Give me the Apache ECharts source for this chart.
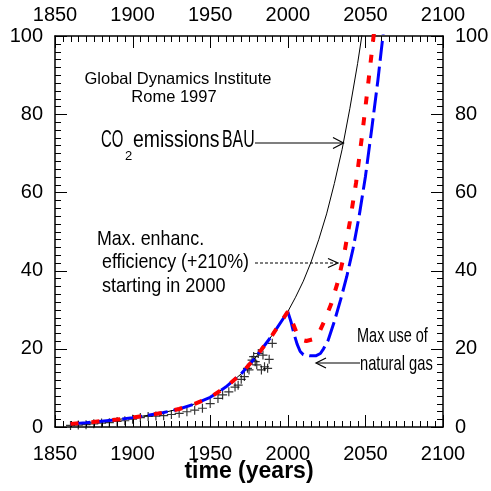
<!DOCTYPE html>
<html>
<head>
<meta charset="utf-8">
<script src="https://cdn.jsdelivr.net/npm/echarts@6/dist/echarts.min.js"></script>
<style>
  html, body { margin: 0; padding: 0; background: #fff; }
  #main { width: 491px; height: 491px; }
</style>
</head>
<body>
<div id="main"></div>
<script>
// --- data ---
var xMin = 1850, xMax = 2100, xStep = 50, xMinorStep = 5;
var yMin = 0, yMax = 100, yStep = 20, yMinorStep = 2;

// business as usual (thin black)
var bauYears  = [1860, 1870, 1880, 1890, 1900, 1910, 1920, 1930, 1940, 1950, 1960, 1970, 1980, 1990, 2000, 2005, 2010, 2015, 2020, 2025, 2030, 2035, 2040, 2045, 2050];
var bauValues = [0.8, 1.1, 1.5, 1.9, 2.4, 3.0, 3.7, 4.6, 5.9, 7.6, 10.2, 13.6, 18.2, 23.5, 29.5, 33.2, 37.3, 42.2, 48, 54.5, 62.3, 71, 81.5, 93, 106];

// max enhanced efficiency (red dotted)
var effYears  = [1860, 1870, 1880, 1890, 1900, 1910, 1920, 1930, 1940, 1950, 1960, 1970, 1980, 1990, 2000, 2003, 2006, 2009, 2012, 2016, 2020, 2024, 2028, 2032, 2036, 2040, 2044, 2048, 2052, 2055, 2057];
var effValues = [0.8, 1.1, 1.5, 1.9, 2.4, 3.0, 3.7, 4.6, 5.9, 7.6, 10.2, 13.6, 18.2, 23.5, 29.5, 26.8, 23.8, 22.3, 22, 22.4, 24, 27.5, 31.5, 36.8, 43.5, 52.5, 62.5, 75, 88.5, 99, 106];

// max use of natural gas (blue dashed)
var gasYears  = [1860, 1870, 1880, 1890, 1900, 1910, 1920, 1930, 1940, 1950, 1960, 1970, 1980, 1990, 2000, 2002, 2004, 2006, 2008, 2010, 2014, 2018, 2021, 2023, 2026, 2030, 2034, 2038, 2042, 2046, 2050, 2054, 2058, 2061, 2063];
var gasValues = [0.8, 1.1, 1.5, 1.9, 2.4, 3.0, 3.7, 4.6, 5.9, 7.6, 10.2, 13.6, 18.2, 23.5, 29.5, 27, 23.8, 21.2, 19.3, 18.5, 18.2, 18.2, 18.8, 20, 22.2, 27, 32.5, 38.5, 45.5, 54, 64, 76, 88.5, 99, 106];

// historical emissions (crosses)
var histYears  = [1860, 1865, 1870, 1875, 1880, 1885, 1890, 1895, 1900, 1905, 1910, 1915, 1920, 1925, 1930, 1935, 1940, 1945, 1950, 1955, 1958, 1962, 1966, 1968, 1970, 1972, 1974, 1975, 1977, 1978, 1979, 1980, 1981, 1983, 1984, 1985, 1987, 1988, 1990];
var histValues = [0.4, 0.5, 0.6, 0.8, 1.0, 1.1, 1.4, 1.6, 2.0, 2.4, 2.7, 2.8, 2.9, 3.2, 3.5, 3.9, 4.3, 4.8, 6.0, 7.3, 8.2, 9.0, 10.2, 10.7, 12.2, 12.9, 15.0, 14.6, 17.1, 18.0, 16.7, 15.9, 18.8, 14.6, 18.4, 15.4, 15.0, 17.3, 21.4];

function zip(xs, ys) {
  return xs.map(function (x, i) { return [x, ys[i]]; });
}

// tick marks (drawn inward on all four sides)
var xTickData = [], yTickData = [];
for (var t = xMin; t <= xMax; t += xMinorStep) xTickData.push([t, 0, (t - xMin) % xStep === 0 ? 1 : 0]);
for (var u = yMin; u <= yMax; u += yMinorStep) yTickData.push([xMin, u, (u - yMin) % yStep === 0 ? 1 : 0]);

var FONT = '"Liberation Sans", Arial, sans-serif';
var plus = 'path://M4.35,0H5.65V4.35H10V5.65H5.65V10H4.35V5.65H0V4.35H4.35Z';

function xAx(pos) {
  return {
    type: 'value', position: pos, min: xMin, max: xMax, interval: xStep,
    axisLine: { show: true, onZero: false, lineStyle: { color: '#000', width: 1.5 } },
    axisTick: { show: false },
    minorTick: { show: false },
    axisLabel: { color: '#000', fontFamily: FONT, fontSize: 20, margin: pos === 'top' ? 11 : 17,
      formatter: function (v) { return String(v); } },
    splitLine: { show: false }
  };
}
function yAx(pos) {
  return {
    type: 'value', position: pos, min: yMin, max: yMax, interval: yStep,
    axisLine: { show: true, onZero: false, lineStyle: { color: '#000', width: 1.5 } },
    axisTick: { show: false },
    minorTick: { show: false },
    axisLabel: { color: '#000', fontFamily: FONT, fontSize: 20, margin: 12 },
    splitLine: { show: false }
  };
}

function crisp(v) { return Math.round(v) + 0.5; }
function tickLine(x1, y1, x2, y2) {
  return { type: 'line', shape: { x1: x1, y1: y1, x2: x2, y2: y2 }, style: { stroke: '#000', lineWidth: 1 } };
}

function txt(x, y, s, size, sx, align, weight) {
  return {
    type: 'text', x: x, y: y, scaleX: sx || 1,
    style: { text: s, font: (weight ? weight + ' ' : '') + size + 'px ' + FONT, fill: '#000',
      align: align || 'left', verticalAlign: 'middle' }
  };
}
function seg(x1, y1, x2, y2, dash) {
  return { type: 'line', shape: { x1: x1, y1: y1, x2: x2, y2: y2 },
    style: { stroke: '#000', lineWidth: 1.2, lineDash: dash || null } };
}
function head(pts) {
  return { type: 'polyline', shape: { points: pts }, style: { stroke: '#000', lineWidth: 1.2, fill: null } };
}

var chart = echarts.init(document.getElementById('main'), null, { renderer: 'canvas' });
chart.setOption({
  animation: false,
  backgroundColor: '#fff',
  grid: { left: 55, right: 48, top: 36, bottom: 64, containLabel: false, outerBoundsMode: 'none' },
  xAxis: [xAx('bottom'), xAx('top')],
  yAxis: [yAx('left'), yAx('right')],
  series: [
    {
      name: 'xticks', type: 'custom', data: xTickData, silent: true, z: 1,
      renderItem: function (params, api) {
        var len = api.value(2) === 1 ? 12 : 6;
        var b = api.coord([api.value(0), yMin]);
        var tp = api.coord([api.value(0), yMax]);
        var x = crisp(b[0]);
        return { type: 'group', children: [
          tickLine(x, b[1], x, b[1] - len),
          tickLine(x, tp[1], x, tp[1] + len)
        ] };
      }
    },
    {
      name: 'yticks', type: 'custom', data: yTickData, silent: true, z: 1,
      renderItem: function (params, api) {
        var len = api.value(2) === 1 ? 12 : 6;
        var l = api.coord([xMin, api.value(1)]);
        var r = api.coord([xMax, api.value(1)]);
        var y = crisp(l[1]);
        return { type: 'group', children: [
          tickLine(l[0], y, l[0] + len, y),
          tickLine(r[0], y, r[0] - len, y)
        ] };
      }
    },
    {
      name: 'hist', type: 'scatter', data: zip(histYears, histValues),
      symbol: plus, symbolSize: 9, itemStyle: { color: '#000' }, z: 2
    },
    {
      name: 'BAU', type: 'line', data: zip(bauYears, bauValues), showSymbol: false,
      lineStyle: { color: '#000', width: 1 }, z: 3
    },
    {
      name: 'gas', type: 'line', data: zip(gasYears, gasValues), showSymbol: false,
      lineStyle: { color: '#0000ff', width: 3, type: [20, 6], cap: 'butt' }, z: 4
    },
    {
      name: 'eff', type: 'line', data: zip(effYears, effValues), showSymbol: false,
      lineStyle: { color: '#ff0000', width: 4, type: [8, 13], cap: 'butt' }, z: 5
    }
  ],
  graphic: [
    txt(249, 472, 'time (years)', 23, 1, 'center', 'bold'),

    txt(178, 79, 'Global Dynamics Institute', 16.5, 1, 'center'),
    txt(174, 97, 'Rome 1997', 16.5, 1, 'center'),

    txt(101, 140, 'CO', 24, 0.62),
    txt(125, 156, '2', 13, 1),
    txt(133, 140, 'emissions', 24, 0.81),
    txt(222, 140, 'BAU', 24, 0.66),
    seg(255, 143, 343, 143),
    head([[333, 137.5], [343.5, 143], [333, 148.5]]),

    txt(97, 239, 'Max. enhanc.', 21, 0.85),
    txt(102, 262.5, 'efficiency (+210%)', 21, 0.85),
    txt(102, 286, 'starting in 2000', 21, 0.86),
    seg(255, 263, 337, 263, [3, 2]),
    head([[328, 258.5], [338, 263], [328, 267.5]]),

    txt(357, 336, 'Max use of', 21, 0.69),
    txt(360, 364, 'natural gas', 21, 0.70),
    seg(317, 363, 360, 363),
    head([[326, 358], [316, 363], [326, 368]])
  ]
});
</script>
</body>
</html>
